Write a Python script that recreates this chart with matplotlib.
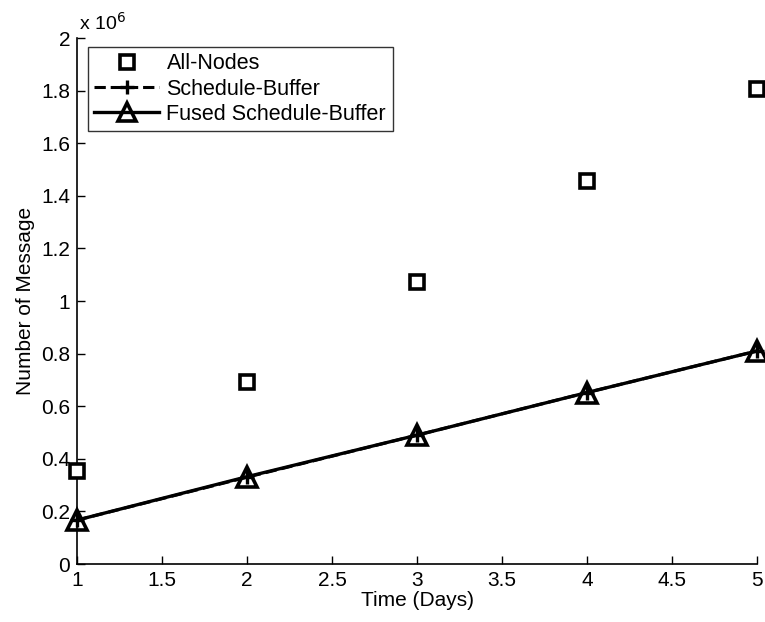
import matplotlib
matplotlib.use("Agg")
import matplotlib.pyplot as plt
from matplotlib.ticker import FuncFormatter

# data (messages)
days = [1, 2, 3, 4, 5]
all_nodes = [352000, 693000, 1074000, 1455000, 1806000]
schedule_buffer = [167000, 330000, 490000, 652000, 810000]
fused_schedule_buffer = [167000, 332000, 490000, 652000, 810000]

x_ticks = [1, 1.5, 2, 2.5, 3, 3.5, 4, 4.5, 5]
y_ticks = [0, 200000, 400000, 600000, 800000, 1000000,
           1200000, 1400000, 1600000, 1800000, 2000000]

plt.rcParams['font.family'] = ['Liberation Sans', 'DejaVu Sans']

fig = plt.figure(figsize=(7.65, 6.22), dpi=100)
ax = fig.add_axes([0.1007, 0.0932, 0.8888, 0.8457])

ax.plot(days, all_nodes, linestyle='none', marker='s', markersize=10,
        markerfacecolor='white', markeredgecolor='black', markeredgewidth=2.6,
        label='All-Nodes', clip_on=False, zorder=3)
ax.plot(days, schedule_buffer, linestyle='--', color='black', linewidth=2.2,
        marker='+', markersize=10, markeredgewidth=2.4,
        label='Schedule-Buffer', clip_on=False, zorder=3)
ax.plot(days, fused_schedule_buffer, linestyle='-', color='black', linewidth=2.4,
        marker='^', markersize=14, markerfacecolor='none',
        markeredgecolor='black', markeredgewidth=2.6,
        label='Fused Schedule-Buffer', clip_on=False, zorder=4)

ax.set_xlim(1, 5)
ax.set_ylim(0, 2000000)
ax.set_xticks(x_ticks)
ax.set_yticks(y_ticks)
ax.xaxis.set_major_formatter(FuncFormatter(lambda v, p: '%g' % v))
ax.yaxis.set_major_formatter(FuncFormatter(lambda v, p: '%g' % (v / 1e6)))
ax.tick_params(direction='in', length=6, width=1, labelsize=15, pad=5)

ax.spines['top'].set_visible(False)
ax.spines['right'].set_visible(False)
for s in ['left', 'bottom']:
    ax.spines[s].set_linewidth(1.2)

ax.set_xlabel('Time (Days)', fontsize=15, labelpad=1)
ax.set_ylabel('Number of Message', fontsize=15, labelpad=4)
ax.text(0.003, 1.008, r'x 10$^{6}$', transform=ax.transAxes, fontsize=14,
        ha='left', va='bottom')

leg = ax.legend(loc='upper left', bbox_to_anchor=(0.016, 0.983), fontsize=15.5,
                frameon=True, fancybox=False, edgecolor='black',
                handlelength=3.0, borderpad=0.3, labelspacing=0.2,
                handletextpad=0.35, borderaxespad=0, markerscale=0.95)
leg.get_frame().set_linewidth(1.0)

fig.savefig('out.png', dpi=100)
